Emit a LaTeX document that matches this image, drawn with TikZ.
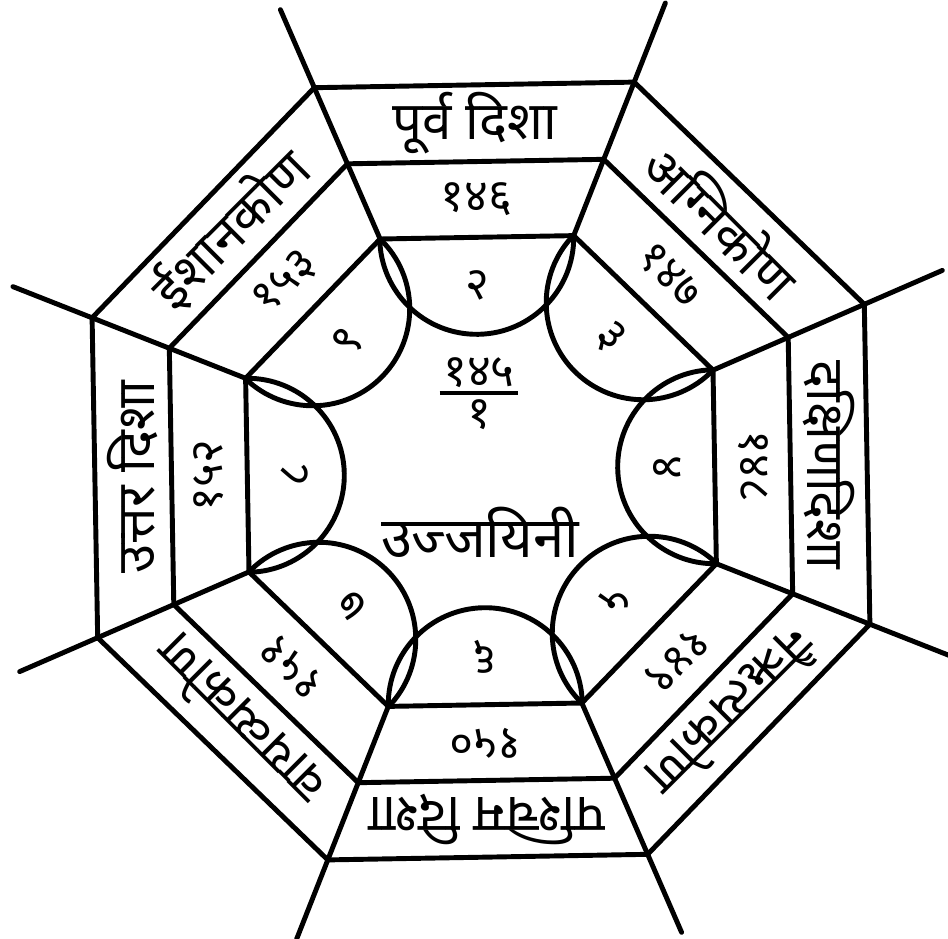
\documentclass[tikz,border=0pt]{standalone}
\usepackage{fontspec}
\newfontfamily\deva[Script=Devanagari]{Noto Sans}
\usetikzlibrary{calc}

\begin{document}
\begin{tikzpicture}[
    x=0.01cm, y=0.01cm,
    rim/.style={line width=1.4pt, line join=round, line cap=round},
    band/.style={font=\deva\fontsize{15}{18}\selectfont, inner sep=0pt},
    num/.style={font=\deva\fontsize{13}{16}\selectfont, inner sep=0pt},
    city/.style={font=\deva\fontsize{16}{19}\selectfont, inner sep=1pt},
]
\useasboundingbox (-481,-467) rectangle (467,471);

% corners of the three octagons and the ends of the spokes
\foreach \k in {0,...,7}{
  \coordinate (in\k)  at (45*\k-21.5:253);
  \coordinate (mid\k) at (45*\k-21.5:335);
  \coordinate (out\k) at (45*\k-21.5:418);
  \coordinate (tip\k) at (45*\k-21.5:503);
}

% rings, spokes and half circles
\foreach \k [evaluate=\k as \n using {int(mod(\k+1,8))}] in {0,...,7}{
  \draw[rim] (out\k) -- (out\n);
  \draw[rim] (mid\k) -- (mid\n);
  \draw[rim] (in\k) -- (in\n);
  \draw[rim] (in\k) -- (tip\k);
  \draw[rim] (in\k) arc[start angle=45*\k-89, delta angle=-180, radius=97];
}

% texts of the eight sides
\foreach \k/\dir/\val/\seg in {0/दक्षिणदिशा/१४८/४, 1/अग्निकोण/१४७/३, 2/{पूर्व दिशा}/१४६/२,
    3/ईशानकोण/१५३/९, 4/{उत्तर दिशा}/१५२/८, 5/वायव्यकोण/१५१/७,
    6/{पश्चिम दिशा}/१५०/६, 7/नैऋत्यकोण/१४९/५}{
  \pgfmathsetmacro{\rot}{45*\k-90}
  \node[band, rotate=\rot] (dir\k) at (45*\k+1:348) {\dir};
  \node[num, rotate=\rot] (val\k) at (45*\k+1:272) {\val};
  \node[num, rotate=\rot] (seg\k) at (45*\k+1:186) {\seg};
}

% centre
\node[num] (fracup) at (-2,98) {१४५};
\node[num] (fracdown) at (-2,56) {१};
\draw[line width=1pt] ($(fracup.south west)+(-3,-4)$) -- ($(fracup.south east)+(3,-4)$);
\node[city] (ujjain) at (-1,-61) {उज्जयिनी};

\end{tikzpicture}
\end{document}
